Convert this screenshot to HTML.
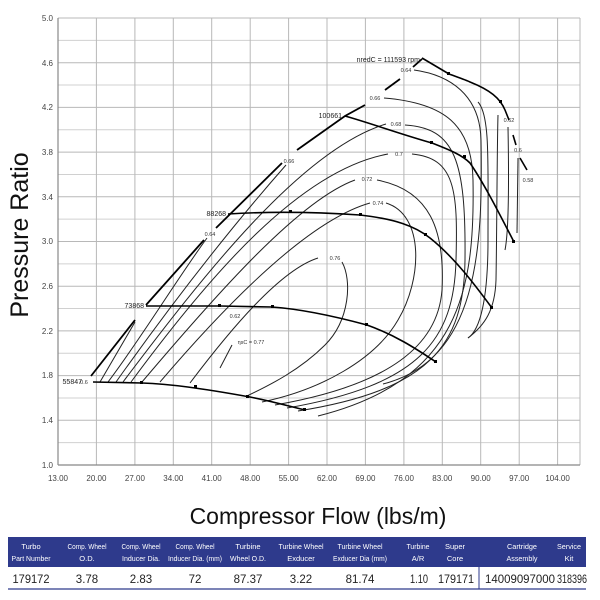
<!DOCTYPE html>
<html><head><meta charset="utf-8"><style>
body{margin:0;background:#fff;width:600px;height:600px;overflow:hidden;font-family:"Liberation Sans",sans-serif}
</style></head><body>
<svg width="600" height="600" viewBox="0 0 600 600" xmlns="http://www.w3.org/2000/svg" style="position:absolute;left:0;top:0">
<g stroke="#d0d0d0" stroke-width="1">
<line x1="58" y1="40.35" x2="580" y2="40.35"/><line x1="58" y1="85.05" x2="580" y2="85.05"/><line x1="58" y1="129.75" x2="580" y2="129.75"/><line x1="58" y1="174.45" x2="580" y2="174.45"/><line x1="58" y1="219.15" x2="580" y2="219.15"/><line x1="58" y1="263.85" x2="580" y2="263.85"/><line x1="58" y1="308.55" x2="580" y2="308.55"/><line x1="58" y1="353.25" x2="580" y2="353.25"/><line x1="58" y1="397.95" x2="580" y2="397.95"/><line x1="58" y1="442.65" x2="580" y2="442.65"/>
</g>
<g stroke="#b8b8b8" stroke-width="1">
<line x1="58" y1="18" x2="580" y2="18"/><line x1="58" y1="62.7" x2="580" y2="62.7"/><line x1="58" y1="107.4" x2="580" y2="107.4"/><line x1="58" y1="152.1" x2="580" y2="152.1"/><line x1="58" y1="196.8" x2="580" y2="196.8"/><line x1="58" y1="241.5" x2="580" y2="241.5"/><line x1="58" y1="286.2" x2="580" y2="286.2"/><line x1="58" y1="330.9" x2="580" y2="330.9"/><line x1="58" y1="375.6" x2="580" y2="375.6"/><line x1="58" y1="420.3" x2="580" y2="420.3"/>
<line x1="96.4" y1="18" x2="96.4" y2="465"/><line x1="134.9" y1="18" x2="134.9" y2="465"/><line x1="173.3" y1="18" x2="173.3" y2="465"/><line x1="211.7" y1="18" x2="211.7" y2="465"/><line x1="250.2" y1="18" x2="250.2" y2="465"/><line x1="288.6" y1="18" x2="288.6" y2="465"/><line x1="327" y1="18" x2="327" y2="465"/><line x1="365.4" y1="18" x2="365.4" y2="465"/><line x1="403.9" y1="18" x2="403.9" y2="465"/><line x1="442.3" y1="18" x2="442.3" y2="465"/><line x1="480.7" y1="18" x2="480.7" y2="465"/><line x1="519.2" y1="18" x2="519.2" y2="465"/><line x1="557.6" y1="18" x2="557.6" y2="465"/><line x1="580" y1="18" x2="580" y2="465"/>
</g>
<g stroke="#888" stroke-width="1.2"><line x1="58" y1="18" x2="58" y2="465"/><line x1="58" y1="465" x2="580" y2="465"/></g>
<g font-size="8" fill="#444" text-anchor="end">
<text x="53" y="21">5.0</text><text x="53" y="66">4.6</text><text x="53" y="110">4.2</text><text x="53" y="155">3.8</text><text x="53" y="200">3.4</text><text x="53" y="244">3.0</text><text x="53" y="289">2.6</text><text x="53" y="334">2.2</text><text x="53" y="378">1.8</text><text x="53" y="423">1.4</text><text x="53" y="468">1.0</text>
</g>
<g font-size="8" fill="#444" text-anchor="middle">
<text x="58" y="481">13.00</text><text x="96.4" y="481">20.00</text><text x="134.9" y="481">27.00</text><text x="173.3" y="481">34.00</text><text x="211.7" y="481">41.00</text><text x="250.2" y="481">48.00</text><text x="288.6" y="481">55.00</text><text x="327" y="481">62.00</text><text x="365.4" y="481">69.00</text><text x="403.9" y="481">76.00</text><text x="442.3" y="481">83.00</text><text x="480.7" y="481">90.00</text><text x="519.2" y="481">97.00</text><text x="557.6" y="481">104.00</text>
</g>
<text x="0" y="0" transform="translate(28,235) rotate(-90)" font-size="25" text-anchor="middle" fill="#111">Pressure Ratio</text>
<text x="318" y="524" font-size="23" text-anchor="middle" fill="#111">Compressor Flow (lbs/m)</text>

<g fill="none" stroke="#222" stroke-width="1">
<path d="M100,382 L135,322"/>
<path d="M108,382 C140,340 175,282 207,238"/>
<path d="M116,382 C160,320 220,240 286,165"/>
<path d="M123,382 C200,280 300,150 386,124"/>
<path d="M131,382 C210,275 300,170 388,154"/>
<path d="M142,382 C220,290 300,200 355,180"/>
<path d="M160,382 C230,300 310,220 370,203"/>
<path d="M190,383 C230,330 280,270 318,258"/>
<path d="M220,368 L232,345"/>
<path d="M342,262 C352,280 350,320 325,345 C300,370 270,385 247,396"/>
<path d="M386,203 C425,215 422,280 398,320 C375,360 320,390 262,402"/>
<path d="M377,180 C430,190 445,230 442,290 C438,345 390,385 275,405"/>
<path d="M412,154 C455,158 458,190 456,260 C454,340 420,385 287,408"/>
<path d="M405,125 C455,128 466,160 465,260 C464,345 430,390 298,411"/>
<path d="M384,98 C445,103 472,125 473,180 C475,290 460,380 318,416"/>
<path d="M414,70 C450,75 480,95 481,140 C483,250 478,360 383,384"/>
<path d="M478,102 C490,115 488,160 488,240 C488,300 480,330 468,338"/>
<path d="M498,115 C497,150 497,220 496,280 C495,310 485,325 468,338"/>
<path d="M508,127 C509,180 509,230 505,250"/>
<path d="M518,158 L517,233"/>
</g>
<g font-size="5.5" fill="#333" text-anchor="middle">
<text x="84" y="384">0.6</text><text x="235" y="318">0.62</text><text x="210" y="236">0.64</text><text x="289" y="163">0.66</text><text x="406" y="72">0.64</text><text x="375" y="100">0.66</text><text x="396" y="126">0.68</text><text x="399" y="156">0.7</text><text x="367" y="181">0.72</text><text x="378" y="205">0.74</text><text x="335" y="260">0.76</text><text x="251" y="344">ηsC = 0.77</text><text x="509" y="122">0.62</text><text x="518" y="152">0.6</text><text x="528" y="182">0.58</text>
</g>
<g fill="none" stroke="#000" stroke-width="1.8">
<path d="M91,376 L135,320"/><path d="M146,305 L204,240"/><path d="M216,228 L282,163"/><path d="M297,150 L345,116 L365,105"/><path d="M385,90 L400,79"/><path d="M413,67 L422,59"/>
</g>
<g fill="none" stroke="#000" stroke-width="1.6">
<path d="M93,382 L142,383 C170,384 200,388 250,397 C275,402 292,407 305,410"/>
<path d="M146,306 L220,306 L272,307 C300,309 330,315 367,325 C395,335 415,348 436,362"/>
<path d="M228,214 C260,212 300,211 360,215 C395,219 415,226 430,238 C455,258 475,285 492,308"/>
<path d="M345,116 C370,123 400,134 432,143 C450,150 462,155 470,163 C485,185 500,215 514,242"/>
<path d="M422,58 L449,74 C460,78 466,80 470,82 C490,90 500,98 505,110 L509,120"/>
<path d="M513,135 L516,145"/><path d="M520,158 L527,170"/>
</g>
<g fill="#000"><rect x="246" y="395" width="3" height="3"/><rect x="140" y="381" width="3" height="3"/><rect x="194" y="385" width="3" height="3"/><rect x="303" y="408" width="3" height="3"/><rect x="218" y="304" width="3" height="3"/><rect x="271" y="305" width="3" height="3"/><rect x="365" y="323" width="3" height="3"/><rect x="434" y="360" width="3" height="3"/><rect x="289" y="210" width="3" height="3"/><rect x="359" y="213" width="3" height="3"/><rect x="424" y="233" width="3" height="3"/><rect x="490" y="306" width="3" height="3"/><rect x="430" y="141" width="3" height="3"/><rect x="463" y="155" width="3" height="3"/><rect x="512" y="240" width="3" height="3"/><rect x="447" y="72" width="3" height="3"/><rect x="499" y="100" width="3" height="3"/></g>
<g font-size="7" fill="#222" text-anchor="end">
<text x="82" y="384">55847</text><text x="144" y="308">73868</text><text x="226" y="216">88268</text><text x="342" y="118">100661</text><text x="420" y="62">nredC = 111593 rpm</text>
</g>

<rect x="8" y="537" width="578" height="30" fill="#2e3a8c"/>
<g font-size="7.5" fill="#fff" text-anchor="middle" lengthAdjust="spacingAndGlyphs">
<text x="31" y="549">Turbo</text><text x="31" y="561" textLength="39" lengthAdjust="spacingAndGlyphs">Part Number</text>
<text x="87" y="549" textLength="39" lengthAdjust="spacingAndGlyphs">Comp. Wheel</text><text x="87" y="561">O.D.</text>
<text x="141" y="549" textLength="39" lengthAdjust="spacingAndGlyphs">Comp. Wheel</text><text x="141" y="561" textLength="38" lengthAdjust="spacingAndGlyphs">Inducer Dia.</text>
<text x="195" y="549" textLength="39" lengthAdjust="spacingAndGlyphs">Comp. Wheel</text><text x="195" y="561" textLength="54" lengthAdjust="spacingAndGlyphs">Inducer Dia. (mm)</text>
<text x="248" y="549">Turbine</text><text x="248" y="561" textLength="36" lengthAdjust="spacingAndGlyphs">Wheel O.D.</text>
<text x="301" y="549" textLength="45" lengthAdjust="spacingAndGlyphs">Turbine Wheel</text><text x="301" y="561">Exducer</text>
<text x="360" y="549" textLength="45" lengthAdjust="spacingAndGlyphs">Turbine Wheel</text><text x="360" y="561" textLength="54" lengthAdjust="spacingAndGlyphs">Exducer Dia (mm)</text>
<text x="418" y="549" textLength="23" lengthAdjust="spacingAndGlyphs">Turbine</text><text x="418" y="561">A/R</text>
<text x="455" y="549">Super</text><text x="455" y="561">Core</text>
<text x="522" y="549" textLength="30" lengthAdjust="spacingAndGlyphs">Cartridge</text><text x="522" y="561" textLength="31" lengthAdjust="spacingAndGlyphs">Assembly</text>
<text x="569" y="549" textLength="24" lengthAdjust="spacingAndGlyphs">Service</text><text x="569" y="561">Kit</text>
</g>
<g font-size="11.5" fill="#222" text-anchor="middle">
<text x="31" y="583" textLength="37" lengthAdjust="spacingAndGlyphs">179172</text><text x="87" y="583">3.78</text><text x="141" y="583">2.83</text><text x="195" y="583">72</text><text x="248" y="583">87.37</text><text x="301" y="583">3.22</text><text x="360" y="583">81.74</text><text x="419" y="583" textLength="18" lengthAdjust="spacingAndGlyphs">1.10</text><text x="456" y="583" textLength="36" lengthAdjust="spacingAndGlyphs">179171</text><text x="520" y="583" textLength="70" lengthAdjust="spacingAndGlyphs">14009097000</text><text x="572" y="583" textLength="30" lengthAdjust="spacingAndGlyphs">318396</text>
</g>
<line x1="479" y1="567" x2="479" y2="589" stroke="#2e3a8c" stroke-width="1"/>
<line x1="8" y1="589" x2="586" y2="589" stroke="#2e3a8c" stroke-width="1.2"/>
</svg>
</body></html>
